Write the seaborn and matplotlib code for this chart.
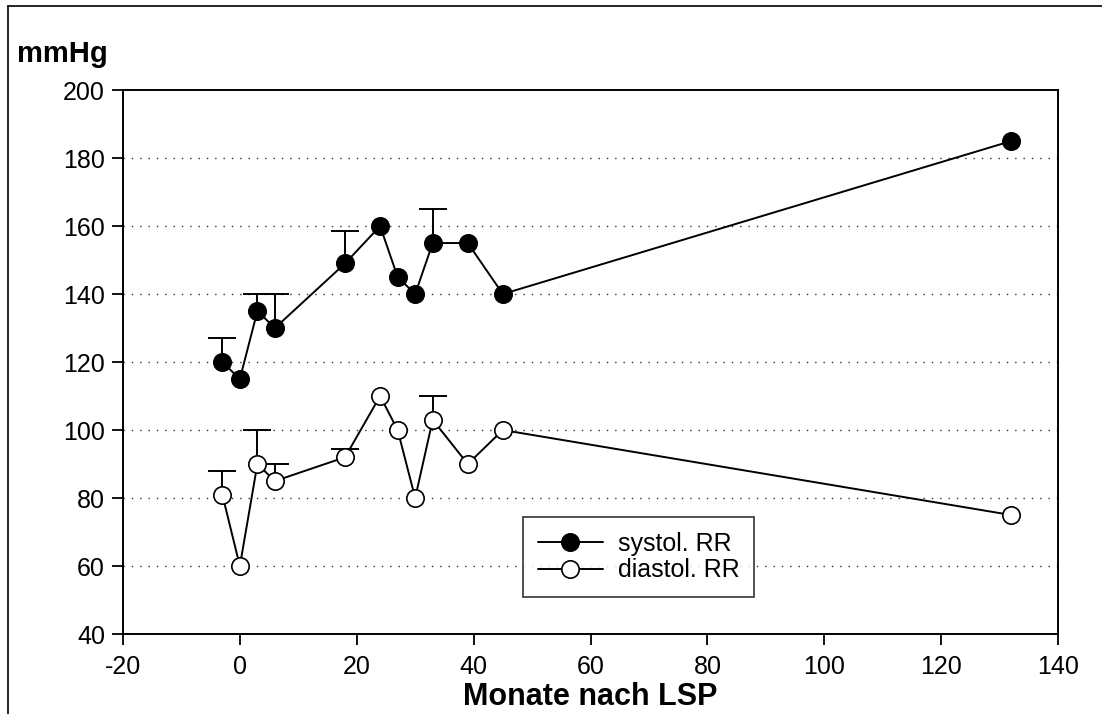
import matplotlib
matplotlib.use("Agg")
import matplotlib.pyplot as plt
from matplotlib.lines import Line2D
import numpy as np
import pandas as pd
import seaborn as sns

# Blood pressure over months after LSP
months = [-3, 0, 3, 6, 18, 24, 27, 30, 33, 39, 45, 132]
systolic = [120, 115, 135, 130, 149, 160, 145, 140, 155, 155, 140, 185]
diastolic = [81, 60, 90, 85, 92, 110, 100, 80, 103, 90, 100, 75]

# Upper whiskers (mean + SD) where available
err_months = [-3, 3, 6, 18, 33]
systolic_top = [127, 140, 140, 158.5, 165]
diastolic_top = [88, 100, 90, 94.5, 110]

x_ticks = [-20, 0, 20, 40, 60, 80, 100, 120, 140]
y_ticks = [40, 60, 80, 100, 120, 140, 160, 180, 200]
grid_levels = [60, 80, 100, 120, 140, 160, 180]

sns.set_style("white")
plt.rcParams["font.family"] = ["Liberation Sans", "DejaVu Sans"]
plt.rcParams["axes.unicode_minus"] = False
plt.rcParams["text.color"] = "black"
plt.rcParams["axes.labelcolor"] = "black"

fig = plt.figure(figsize=(11.02, 7.14), dpi=100)
ax = fig.add_axes([0.1116, 0.1120, 0.8485, 0.7619])

df = pd.DataFrame({"Monat": months, "systol. RR": systolic, "diastol. RR": diastolic})

# dotted horizontal reference lines
for g in grid_levels:
    ax.axhline(g, color="#333333", lw=1.0, ls=(0, (1, 5)), zorder=0)


def whiskers(xs, means, tops):
    lookup = dict(zip(months, means))
    base = np.array([lookup[m] for m in xs], dtype=float)
    up = np.array(tops, dtype=float) - base
    _, caps, _ = ax.errorbar(xs, base, yerr=[np.zeros_like(up), up], fmt="none",
                             ecolor="black", elinewidth=1.4, capsize=10,
                             capthick=1.4, zorder=2)
    caps[0].set_visible(False)


whiskers(err_months, systolic, systolic_top)
whiskers(err_months, diastolic, diastolic_top)

sns.lineplot(data=df, x="Monat", y="systol. RR", sort=False, estimator=None,
             color="black", lw=1.4, marker="o", markersize=12.5,
             markerfacecolor="black", markeredgecolor="black", markeredgewidth=1.2,
             label="systol. RR", ax=ax, zorder=3)
sns.lineplot(data=df, x="Monat", y="diastol. RR", sort=False, estimator=None,
             color="black", lw=1.4, marker="o", markersize=12.5,
             markerfacecolor="white", markeredgecolor="black", markeredgewidth=1.2,
             label="diastol. RR", ax=ax, zorder=3)

ax.set_xlim(-20, 140)
ax.set_ylim(40, 200)
ax.set_xticks(x_ticks)
ax.set_yticks(y_ticks)
ax.tick_params(axis="both", direction="out", length=8, width=1.3,
               labelsize=18, colors="black", pad=5, left=True, bottom=True)
ax.tick_params(axis="x", pad=7)
for s in ax.spines.values():
    s.set_visible(True)
    s.set_color("black")
    s.set_linewidth(1.4)

ax.set_xlabel("Monate nach LSP", fontsize=22, fontweight="bold", labelpad=2,
              color="black")
ax.set_ylabel("")
fig.text(0.015, 0.913, "mmHg", fontsize=21, fontweight="bold", va="baseline",
         ha="left", color="black")

leg = ax.legend(loc="upper left", bbox_to_anchor=(0.4273, 0.2155), frameon=True,
                fancybox=False, edgecolor="black", fontsize=18, handlelength=2.6,
                handletextpad=0.6, borderpad=0.6, labelspacing=0.1,
                markerscale=1.0, borderaxespad=0)
leg.get_frame().set_linewidth(1.2)
for h in leg.legend_handles:
    h.set_markersize(12.5)

# outer frame edges (top and left)
fig.add_artist(Line2D([8 / 1102, 1.0], [1 - 6 / 714, 1 - 6 / 714],
                      transform=fig.transFigure, color="black", lw=1.2))
fig.add_artist(Line2D([8 / 1102, 8 / 1102], [0.0, 1 - 6 / 714],
                      transform=fig.transFigure, color="black", lw=1.2))

fig.savefig("out.png", dpi=100)
